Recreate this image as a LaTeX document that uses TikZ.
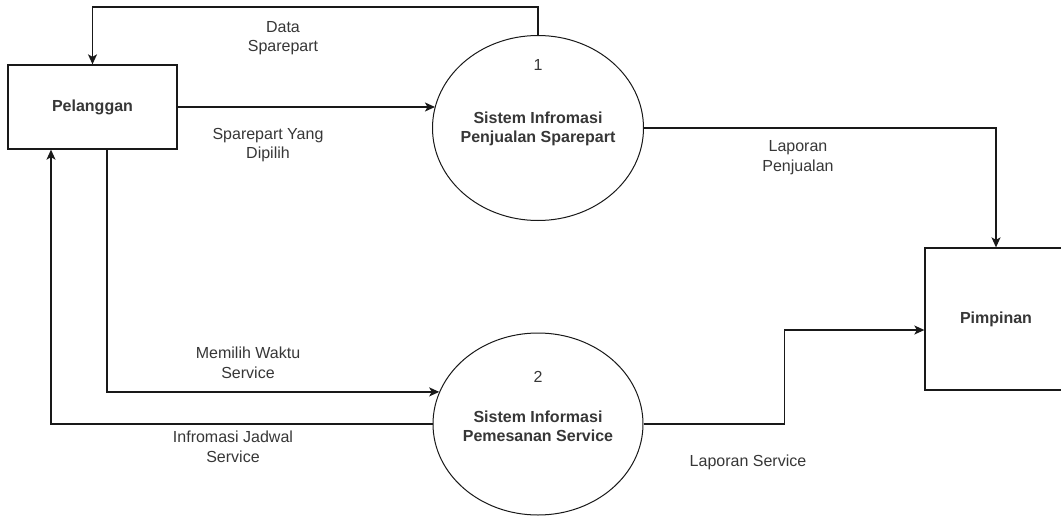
\documentclass[tikz,border=0pt]{standalone}
\usepackage{fontspec}
\setmainfont{Liberation Sans}
\usetikzlibrary{arrows.meta,shapes.geometric}
\definecolor{inkline}{RGB}{25,25,25}
\definecolor{inktext}{RGB}{55,55,55}
\begin{document}
\begin{tikzpicture}[x=1pt,y=-1pt,
  font=\fontsize{16}{19.5}\selectfont,
  entity/.style={draw=inkline,line width=1.3pt,rectangle,inner sep=0pt,
    text=inktext,font=\fontsize{16}{19.5}\selectfont\bfseries},
  process/.style={draw=inkline,line width=1pt,ellipse,inner sep=0pt,fill=white},
  ptitle/.style={align=center,text=inktext,font=\fontsize{16}{19.5}\selectfont\bfseries},
  pnum/.style={text=inktext},
  flowlabel/.style={align=center,text=inktext},
  flow/.style={draw=inkline,line width=1.3pt,
    -{Stealth[length=10pt,width=9pt,inset=2.5pt]}}]

\useasboundingbox (0,0) rectangle (1061,517);
\fill[white] (0,0) rectangle (1061,517);

% external entities
\node[entity,minimum width=169pt,minimum height=84pt] (pel) at (92.5,107) {Pelanggan};
\node[entity,minimum width=142pt,minimum height=142pt] (pim) at (996,319) {Pimpinan};

% processes
\node[process,minimum width=211pt,minimum height=185pt] (p1) at (538,128) {};
\node[pnum] (n1) at (538,65) {1};
\node[ptitle] (t1) at (538,129) {Sistem Infromasi\\Penjualan Sparepart};

\node[process,minimum width=210pt,minimum height=182pt] (p2) at (538,424) {};
\node[pnum] (n2) at (538,377) {2};
\node[ptitle] (t2) at (538,426.5) {Sistem Informasi\\Pemesanan Service};

% data flows
\draw[flow] (p1.north) -- ++(0,-28) -| (pel.north);
\draw[flow] (pel.east) -- (pel.east -| p1.168);
\draw[flow] (p1.east) -| (pim.north);
\draw[flow] ([xshift=14.5pt]pel.south) |- (p2.162);
\draw[flow] (p2.west) -| ([xshift=-41.5pt]pel.south);
\draw[flow] (p2.east) -- ++(141,0) |- ([yshift=-11pt]pim.west);

% flow labels
\node[flowlabel] (l1) at (283,38) {Data\\Sparepart};
\node[flowlabel] (l2) at (268,145) {Sparepart Yang\\Dipilih};
\node[flowlabel] (l3) at (798,157.5) {Laporan\\Penjualan};
\node[flowlabel] (l4) at (248,363) {Memilih Waktu\\Service};
\node[flowlabel] (l5) at (233,447) {Infromasi Jadwal\\Service};
\node[flowlabel] (l6) at (748,462) {Laporan Service};
\end{tikzpicture}
\end{document}
